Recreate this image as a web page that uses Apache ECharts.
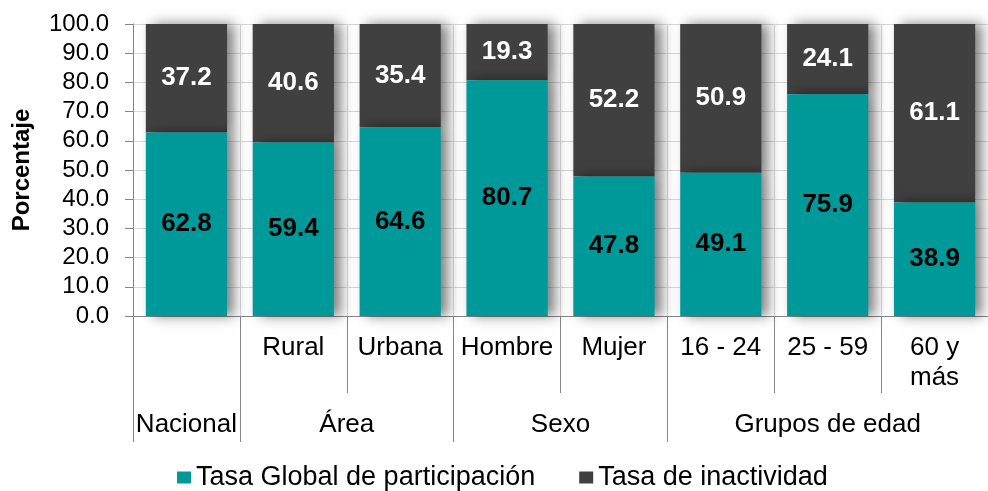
<!DOCTYPE html>
<html>
<head>
<meta charset="utf-8">
<script src="https://cdn.jsdelivr.net/npm/echarts@6/dist/echarts.min.js"></script>
<style>
  html, body { margin: 0; padding: 0; background: #fff; }
  #chart { width: 988px; height: 491px; }
</style>
</head>
<body>
<div id="chart"></div>
<script>
const categories = ["", "Rural", "Urbana", "Hombre", "Mujer", "16 - 24", "25 - 59", "60 y\nmás"];
const groupNames = ["Nacional", "Área", "Sexo", "Grupos de edad"];
const groupSizes = [1, 2, 2, 3];
const participacion = [62.8, 59.4, 64.6, 80.7, 47.8, 49.1, 75.9, 38.9];
const inactividad = [37.2, 40.6, 35.4, 19.3, 52.2, 50.9, 24.1, 61.1];
const seriesNames = ["Tasa Global de participación", "Tasa de inactividad"];

const FONT = "Liberation Sans, Arial, sans-serif";
const AXIS_GRAY = "#868686";
const GRID_GRAY = "#D9D9D9";

// group boundaries and centers on a 0..n value scale
const groupEdges = [0];
groupSizes.forEach((s) => groupEdges.push(groupEdges[groupEdges.length - 1] + s));
const groupCenters = groupSizes.map((s, i) => groupEdges[i] + s / 2);

const chart = echarts.init(document.getElementById("chart"));

const option = {
  animation: false,
  textStyle: { fontFamily: FONT },
  grid: { left: 133, top: 24, width: 865, bottom: 175, containLabel: false },
  legend: {
    data: seriesNames,
    left: 177,
    top: 464,
    padding: 0,
    itemGap: 44,
    itemWidth: 14,
    itemHeight: 12,
    icon: "rect",
    textStyle: { fontSize: 27, color: "#000", fontFamily: FONT },
  },
  xAxis: [
    {
      type: "category",
      data: categories,
      position: "bottom",
      axisLine: { lineStyle: { color: AXIS_GRAY, width: 1 } },
      axisTick: { show: true, interval: 0, length: 77, lineStyle: { color: AXIS_GRAY } },
      splitLine: { show: true, interval: 0, lineStyle: { color: GRID_GRAY } },
      axisLabel: {
        interval: 0,
        margin: 17,
        fontSize: 26,
        lineHeight: 30,
        color: "#000",
        fontFamily: FONT,
        verticalAlign: "top",
      },
    },
    {
      type: "value",
      position: "bottom",
      min: 0,
      max: categories.length,
      axisLine: { show: false },
      splitLine: { show: false },
      axisTick: {
        show: true,
        length: 126,
        customValues: groupEdges,
        lineStyle: { color: AXIS_GRAY },
      },
      axisLabel: {
        customValues: groupCenters,
        margin: 94,
        fontSize: 26,
        lineHeight: 30,
        color: "#000",
        fontFamily: FONT,
        verticalAlign: "top",
        formatter: (v) => groupNames[groupCenters.indexOf(v)],
      },
    },
  ],
  yAxis: {
    type: "value",
    min: 0,
    max: 100,
    interval: 10,
    name: "Porcentaje",
    nameLocation: "middle",
    nameGap: 99,
    nameTextStyle: { fontSize: 24, fontWeight: "bold", color: "#000", fontFamily: FONT },
    axisLine: { show: true, lineStyle: { color: AXIS_GRAY } },
    axisTick: { show: true, length: 8, lineStyle: { color: AXIS_GRAY } },
    splitLine: { show: true, lineStyle: { color: GRID_GRAY } },
    axisLabel: {
      margin: 24,
      fontSize: 24,
      color: "#000",
      fontFamily: FONT,
      formatter: (v) => v.toFixed(1),
    },
  },
  series: [
    {
      name: seriesNames[0],
      type: "bar",
      stack: "total",
      z: 3,
      barWidth: "76%",
      data: participacion,
      itemStyle: {
        color: "#009999",
        shadowColor: "rgba(0,0,0,0.5)",
        shadowBlur: 12,
        shadowOffsetX: 7,
      },
      label: {
        show: true,
        position: "inside",
        fontSize: 26,
        fontWeight: "bold",
        color: "#000",
        fontFamily: FONT,
        formatter: (p) => p.value.toFixed(1),
      },
    },
    {
      name: seriesNames[1],
      type: "bar",
      stack: "total",
      z: 2,
      barWidth: "76%",
      data: inactividad,
      itemStyle: {
        color: "#404040",
        shadowColor: "rgba(0,0,0,0.5)",
        shadowBlur: 12,
        shadowOffsetX: 7,
      },
      label: {
        show: true,
        position: "inside",
        fontSize: 26,
        fontWeight: "bold",
        color: "#fff",
        fontFamily: FONT,
        formatter: (p) => p.value.toFixed(1),
      },
    },
  ],
};

chart.setOption(option);
</script>
</body>
</html>
